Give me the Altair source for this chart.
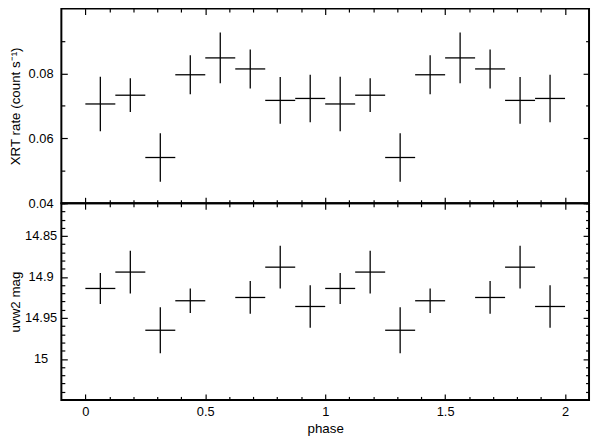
import altair as alt
import pandas as pd

# ---- data (two phase cycles) ----
phase = [0.0625, 0.1875, 0.3125, 0.4375, 0.5625, 0.6875, 0.8125, 0.9375,
         1.0625, 1.1875, 1.3125, 1.4375, 1.5625, 1.6875, 1.8125, 1.9375]
phase_err = [0.0625, 0.0625, 0.0625, 0.0625, 0.0625, 0.0625, 0.0625, 0.0625,
             0.0625, 0.0625, 0.0625, 0.0625, 0.0625, 0.0625, 0.0625, 0.0625]

xrt_rate = [0.0706, 0.0733, 0.0541, 0.0796, 0.0848, 0.0814, 0.0717, 0.0723,
            0.0706, 0.0733, 0.0541, 0.0796, 0.0848, 0.0814, 0.0717, 0.0723]
xrt_err = [0.0084, 0.0052, 0.0075, 0.0060, 0.0078, 0.0060, 0.0072, 0.0073,
           0.0084, 0.0052, 0.0075, 0.0060, 0.0078, 0.0060, 0.0072, 0.0073]

uvw2_mag = [14.914, 14.894, 14.965, 14.929, None, 14.925, 14.888, 14.936,
            14.914, 14.894, 14.965, 14.929, None, 14.925, 14.888, 14.936]
uvw2_err = [0.019, 0.026, 0.028, 0.015, None, 0.020, 0.026, 0.026,
            0.019, 0.026, 0.028, 0.015, None, 0.020, 0.026, 0.026]

# tick positions / labels
x_ticks = [0.0, 0.1, 0.2, 0.3, 0.4, 0.5, 0.6, 0.7, 0.8, 0.9, 1.0,
           1.1, 1.2, 1.3, 1.4, 1.5, 1.6, 1.7, 1.8, 1.9, 2.0]
xrt_ticks = [0.04, 0.05, 0.06, 0.07, 0.08, 0.09]
uvw2_ticks = [14.81, 14.82, 14.83, 14.84, 14.85, 14.86, 14.87, 14.88, 14.89,
              14.90, 14.91, 14.92, 14.93, 14.94, 14.95, 14.96, 14.97, 14.98,
              14.99, 15.00, 15.01, 15.02, 15.03, 15.04]

x_domain = [-0.1, 2.1]
xrt_domain = [0.04, 0.1]
uvw2_domain = [14.81, 15.05]

# ---- tables ----
xrt_df = pd.DataFrame({
    "phase": phase,
    "x0": [p - e for p, e in zip(phase, phase_err)],
    "x1": [p + e for p, e in zip(phase, phase_err)],
    "rate": xrt_rate,
    "r0": [v - e for v, e in zip(xrt_rate, xrt_err)],
    "r1": [v + e for v, e in zip(xrt_rate, xrt_err)],
})

uv_rows = [(p, pe, m, me) for p, pe, m, me in zip(phase, phase_err, uvw2_mag, uvw2_err)
           if m is not None]
uv_df = pd.DataFrame({
    "phase": [r[0] for r in uv_rows],
    "x0": [r[0] - r[1] for r in uv_rows],
    "x1": [r[0] + r[1] for r in uv_rows],
    "mag": [r[2] for r in uv_rows],
    "m0": [r[2] - r[3] for r in uv_rows],
    "m1": [r[2] + r[3] for r in uv_rows],
})

FONT = "Liberation Sans"
MAJ_X = "abs(datum.value*2 - round(datum.value*2)) < 1e-6"
MAJ_XRT = "abs(datum.value*50 - round(datum.value*50)) < 1e-6"
MAJ_UV = "abs(datum.value*20 - round(datum.value*20)) < 1e-6"


def make_axis(orient, values, major, fmt=None, title=None, **kw):
    d = dict(
        orient=orient,
        values=values,
        ticks=True,
        tickSize={"expr": f"({major}) ? -6 : -3.5"},
        tickColor="black",
        tickWidth=1.2,
        domain=False,
        grid=False,
        labelOverlap=False,
        labelFlush=False,
        title=title,
    )
    if fmt is not None:
        d.update(
            labels=True,
            labelExpr=f"({major}) ? format(datum.value, '{fmt}') : ''",
            labelFont=FONT,
            labelFontSize=13,
            labelColor="black",
        )
    else:
        d["labels"] = False
    if title is not None:
        d.update(titleFont=FONT, titleFontSize=13.5, titleFontWeight="normal",
                 titleColor="black")
    d.update(kw)
    return alt.Axis(**d)


xscale = alt.Scale(domain=x_domain, nice=False, zero=False)
rule_style = dict(color="black", strokeWidth=1.3)

# ---- top panel: XRT rate ----
xrt_scale = alt.Scale(domain=xrt_domain, nice=False, zero=False)
top_h = alt.Chart(xrt_df).mark_rule(**rule_style).encode(
    x=alt.X("x0:Q", scale=xscale, axis=make_axis("bottom", x_ticks, MAJ_X)),
    x2="x1:Q",
    y=alt.Y("rate:Q", scale=xrt_scale,
            axis=make_axis("left", xrt_ticks, MAJ_XRT, fmt=".2f",
                           title="XRT rate (count s⁻¹)",
                           labelAlign="center", labelPadding=27,
                           titleX=-46, titleBaseline="middle")),
)
top_v = alt.Chart(xrt_df).mark_rule(**rule_style).encode(
    x=alt.X("phase:Q", scale=xscale, axis=make_axis("top", x_ticks, MAJ_X)),
    y=alt.Y("r0:Q", scale=xrt_scale, axis=make_axis("right", xrt_ticks, MAJ_XRT)),
    y2="r1:Q",
)
top = alt.layer(top_h, top_v).resolve_axis(x="independent", y="independent").properties(
    width=534, height=197
)

# ---- bottom panel: uvw2 magnitude ----
uv_scale = alt.Scale(domain=uvw2_domain, nice=False, zero=False, reverse=True)
bot_h = alt.Chart(uv_df).mark_rule(**rule_style).encode(
    x=alt.X("x0:Q", scale=xscale,
            axis=make_axis("bottom", x_ticks, MAJ_X, fmt="~g", title="phase",
                           labelPadding=12, titlePadding=0)),
    x2="x1:Q",
    y=alt.Y("mag:Q", scale=uv_scale,
            axis=make_axis("left", uvw2_ticks, MAJ_UV, fmt="~g",
                           title="uvw2 mag",
                           labelAlign="center", labelPadding=27,
                           titleX=-46, titleBaseline="middle")),
)
bot_v = alt.Chart(uv_df).mark_rule(**rule_style).encode(
    x=alt.X("phase:Q", scale=xscale, axis=make_axis("top", x_ticks, MAJ_X)),
    y=alt.Y("m0:Q", scale=uv_scale, axis=make_axis("right", uvw2_ticks, MAJ_UV)),
    y2="m1:Q",
)
bottom = alt.layer(bot_h, bot_v).resolve_axis(x="independent", y="independent").properties(
    width=534, height=199
)

chart = alt.vconcat(top, bottom, spacing=0, bounds="flush").properties(
    padding={"left": 0, "right": 1, "top": -4, "bottom": 2},
    background="white",
).configure_view(
    stroke="black", strokeWidth=2
)

chart.save("out.html", embed_options={"renderer": "svg", "actions": False})
